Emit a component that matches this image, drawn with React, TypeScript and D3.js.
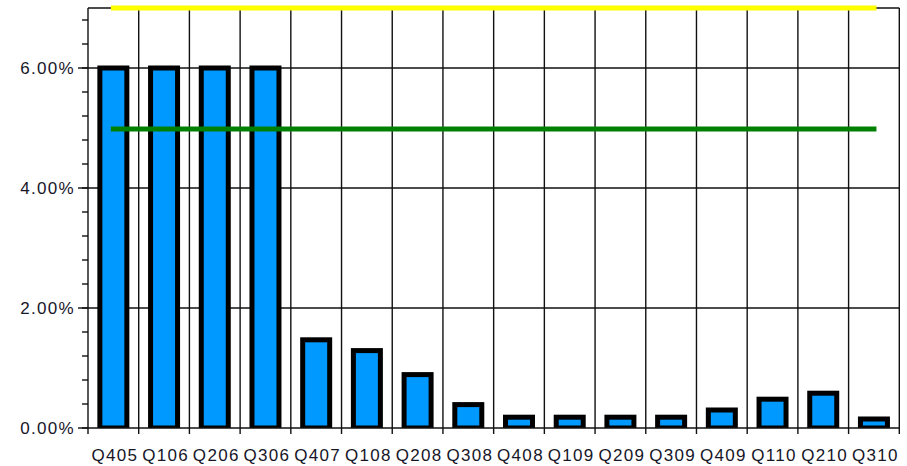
import React from "react";
import * as d3 from "d3";

const categories = ["Q405","Q106","Q206","Q306","Q407","Q108","Q208","Q308","Q408","Q109","Q209","Q309","Q409","Q110","Q210","Q310"];
const values = [6.0, 6.0, 6.0, 6.0, 1.47, 1.29, 0.89, 0.39, 0.18, 0.18, 0.18, 0.18, 0.3, 0.48, 0.58, 0.15];
const yellowLevel = 7.0;
const greenLevel = 5.0;
const majorTicks = [0, 2, 4, 6];
const minorTicks = d3.range(0, 7.0001, 0.4);

export default function App() {
  const W = 907, H = 466;
  const left = 88, right = 899.3, top = 8, bottom = 428;
  const x = d3.scaleBand<string>().domain(categories).range([left, right]).padding(0);
  const y = d3.scaleLinear().domain([0, 7]).range([bottom, top]);
  const bw = x.bandwidth();
  const barW = 27;
  const font = "'Liberation Sans', Arial, sans-serif";
  const txt = "#161628";
  const boundaries = categories.map((c) => x(c)!).concat([right]);
  const c0 = x(categories[0])! + bw / 2;
  const c1 = x(categories[categories.length - 1])! + bw / 2;

  return (
    <svg width={W} height={H} style={{ position: "absolute", left: 0, top: 0, background: "#fff" }}>
      <defs>
        <clipPath id="plot">
          <rect x={left} y={0} width={right - left} height={bottom} />
        </clipPath>
      </defs>
      {majorTicks.filter((t) => t > 0).map((t) => (
        <line key={"hg" + t} x1={left} x2={right} y1={y(t)} y2={y(t)} stroke="#111" strokeWidth={1.4} />
      ))}
      {boundaries.map((b, i) => (
        <line key={"vg" + i} x1={b} x2={b} y1={top} y2={bottom + 6} stroke="#111" strokeWidth={1.4} />
      ))}
      <line x1={left} x2={right} y1={top} y2={top} stroke="#111" strokeWidth={1.4} />
      {minorTicks.map((t, i) => (
        <line key={"mt" + i} x1={left - 6} x2={left} y1={y(t)} y2={y(t)} stroke="#111" strokeWidth={1.4} />
      ))}
      {majorTicks.map((t) => (
        <line key={"Mt" + t} x1={left - 10} x2={left} y1={y(t)} y2={y(t)} stroke="#111" strokeWidth={1.4} />
      ))}
      <g clipPath="url(#plot)">
        {categories.map((c, i) => (
          <rect
            key={c}
            x={x(c)! + bw / 2 - barW / 2}
            y={y(values[i])}
            width={barW}
            height={y(0) - y(values[i])}
            fill="#0099ff"
            stroke="#000"
            strokeWidth={5}
          />
        ))}
      </g>
      <line x1={left} x2={right} y1={bottom} y2={bottom} stroke="#111" strokeWidth={1.4} />
      <line x1={c0} x2={c1} y1={y(yellowLevel)} y2={y(yellowLevel)} stroke="#ffff00" strokeWidth={5} strokeLinecap="square" />
      <line x1={c0} x2={c1} y1={y(greenLevel) + 1} y2={y(greenLevel) + 1} stroke="#008000" strokeWidth={5} strokeLinecap="square" />
      {majorTicks.map((t) => (
        <text key={"yl" + t} x={75} y={y(t) + 6} textAnchor="end" fontFamily={font} fontSize={17} letterSpacing={1.3} fill={txt}>
          {t.toFixed(2) + "%"}
        </text>
      ))}
      {categories.map((c) => (
        <text key={"xl" + c} x={x(c)! + bw / 2 + 1.5} y={461} textAnchor="middle" fontFamily={font} fontSize={17} letterSpacing={1.3} fill={txt}>
          {c}
        </text>
      ))}
    </svg>
  );
}
